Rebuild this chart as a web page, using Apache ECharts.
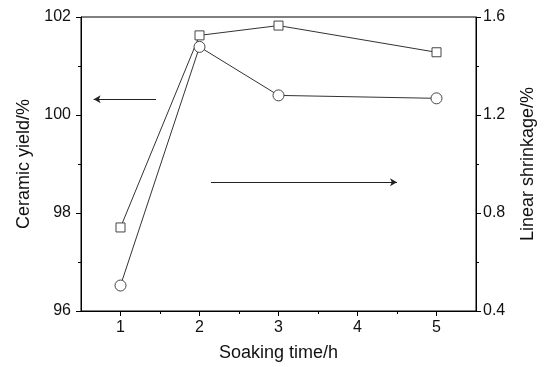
<!DOCTYPE html>
<html>
<head>
<meta charset="utf-8">
<script src="https://cdn.jsdelivr.net/npm/echarts@6/dist/echarts.min.js"></script>
<style>html,body{margin:0;padding:0;background:#fff}#c{width:545px;height:367px}</style>
</head>
<body>
<div id="c"></div>
<script>
// Data
var soakingTime = [1, 2, 3, 5];
var ceramicYield = [96.52, 101.39, 100.40, 100.34];
var linearShrinkage = [0.741, 1.525, 1.565, 1.456];
var xMajorTicks = [1, 2, 3, 4, 5];
var xMinorTicks = [1.5, 2.5, 3.5, 4.5];
// annotation arrows (data coords on left axis): [x0, y0, x1(head), y1]
var arrowLeft = [1.45, 100.32, 0.66, 100.32];
var arrowRight = [2.145, 98.63, 4.5, 98.63];

var FONT = '"Liberation Sans", Arial, Helvetica, sans-serif';
var chart = echarts.init(document.getElementById('c'), null, {renderer: 'canvas'});

function pairs(xs, ys) { return xs.map(function (x, i) { return [x, ys[i]]; }); }

var axisText = {color: '#111', fontSize: 16, fontFamily: FONT};
var nameText = {color: '#111', fontSize: 18, fontFamily: FONT};

chart.setOption({
  animation: false,
  backgroundColor: '#fff',
  grid: {left: 81, right: 69, top: 17, bottom: 54, show: true, borderColor: '#000', borderWidth: 1, backgroundColor: 'transparent'},
  xAxis: [{
    type: 'value', min: 0.5, max: 5.5,
    name: 'Soaking time/h', nameLocation: 'middle', nameGap: 33, nameTextStyle: nameText,
    axisLine: {show: true, lineStyle: {color: '#000', width: 1}},
    axisTick: {show: true, customValues: xMajorTicks, length: 5, inside: false, lineStyle: {color: '#000'}},
    axisLabel: Object.assign({customValues: xMajorTicks, margin: 9}, axisText),
    splitLine: {show: false}
  }, {
    type: 'value', min: 0.5, max: 5.5, position: 'bottom',
    axisLine: {show: false},
    axisTick: {show: true, customValues: xMinorTicks, length: 3, lineStyle: {color: '#000'}},
    axisLabel: {show: false},
    splitLine: {show: false}
  }],
  yAxis: [{
    type: 'value', min: 96, max: 102, interval: 2, position: 'left',
    name: 'Ceramic yield/%', nameLocation: 'middle', nameRotate: 90, nameGap: 47, nameTextStyle: nameText,
    axisLine: {show: true, lineStyle: {color: '#000', width: 1}},
    axisTick: {show: true, length: 5, lineStyle: {color: '#000'}},
    minorTick: {show: true, splitNumber: 2, length: 3, lineStyle: {color: '#000'}},
    axisLabel: Object.assign({margin: 10, formatter: function (v) { return String(Math.round(v)); }}, axisText),
    splitLine: {show: false}
  }, {
    type: 'value', min: 0.4, max: 1.6, interval: 0.4, position: 'right',
    name: 'Linear shrinkage/%', nameLocation: 'middle', nameRotate: 90, nameGap: 43, nameTextStyle: nameText,
    axisLine: {show: true, lineStyle: {color: '#000', width: 1}},
    axisTick: {show: true, length: 5, lineStyle: {color: '#000'}},
    minorTick: {show: true, splitNumber: 2, length: 3, lineStyle: {color: '#000'}},
    axisLabel: Object.assign({margin: 7, formatter: function (v) { return v.toFixed(1); }}, axisText),
    splitLine: {show: false}
  }],
  series: [{
    type: 'line', name: 'Ceramic yield', xAxisIndex: 0, yAxisIndex: 0,
    data: pairs(soakingTime, ceramicYield),
    symbol: 'circle', symbolSize: 11,
    lineStyle: {color: '#333', width: 1},
    itemStyle: {color: '#fff', borderColor: '#444', borderWidth: 1},
    markLine: {
      silent: true, symbol: ['none', 'arrow'], symbolSize: [6, 7], label: {show: false},
      lineStyle: {color: '#222', width: 1, type: 'solid'},
      data: [
        [{coord: [arrowLeft[0], arrowLeft[1]]}, {coord: [arrowLeft[2], arrowLeft[3]]}],
        [{coord: [arrowRight[0], arrowRight[1]]}, {coord: [arrowRight[2], arrowRight[3]]}]
      ]
    }
  }, {
    type: 'line', name: 'Linear shrinkage', xAxisIndex: 0, yAxisIndex: 1,
    data: pairs(soakingTime, linearShrinkage),
    symbol: 'rect', symbolSize: 9,
    lineStyle: {color: '#333', width: 1},
    itemStyle: {color: '#fff', borderColor: '#444', borderWidth: 1}
  }]
});
</script>
</body>
</html>
